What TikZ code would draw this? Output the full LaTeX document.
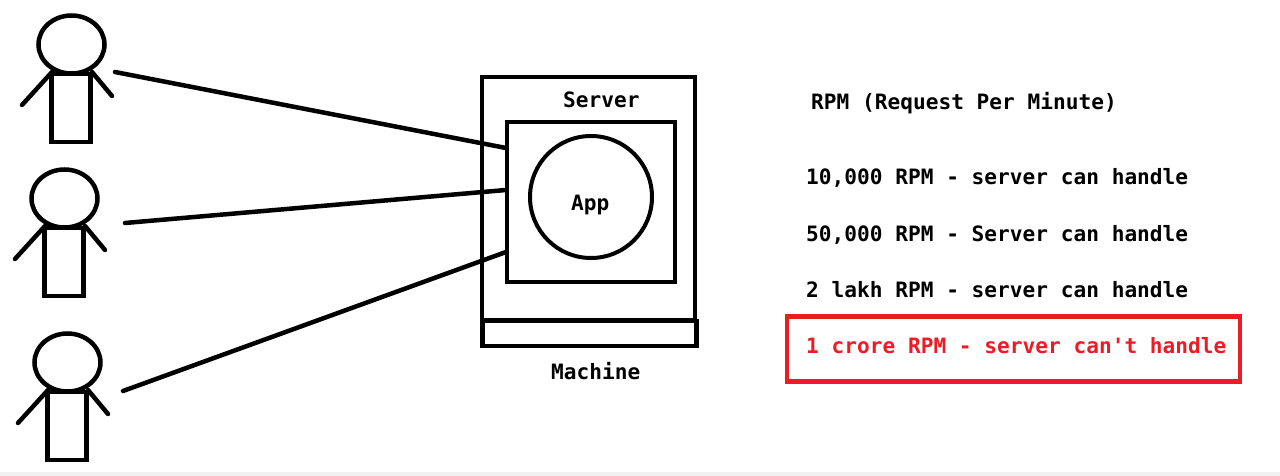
\documentclass[tikz,border=0pt]{standalone}
\usepackage{fontspec}
\setmonofont{DejaVu Sans Mono}[BoldFont={DejaVu Sans Mono Bold}]
\usetikzlibrary{shapes.geometric,calc}
\definecolor{alertred}{HTML}{ED1C24}
\definecolor{stripgray}{HTML}{F0F0F0}
\tikzset{
  x=1pt,y=-1pt,
  ink/.style={draw=black,line width=4.5pt},
  thinink/.style={draw=black,line width=4.5pt},
  boxshape/.style={ink,rectangle,inner sep=0pt,outer sep=0pt,anchor=center},
  head/.style={thinink,ellipse,inner sep=0pt,outer sep=0pt,minimum width=66pt,minimum height=58pt},
  torso/.style={thinink,rectangle,inner sep=0pt,outer sep=0pt,minimum width=39pt,minimum height=68pt},
  limb/.style={draw=black,line width=4.5pt,line cap=round},
  wire/.style={draw=black,line width=4.5pt,line cap=round},
  lbl/.style={font=\ttfamily\bfseries\fontsize{21.15pt}{25pt}\selectfont,text=black,inner sep=0pt,anchor=base west},
}
\newcommand{\stickfigure}[3]{%
  \node[head] (#1h) at (#2+0.5,#3-29.5) {};
  \node[torso] (#1b) at (#2,#3+34) {};
  \draw[limb] (#2-19,#3-2) -- (#2-49,#3+31);
  \draw[limb] (#2+21,#3-2) -- (#2+41,#3+22);
}
\begin{document}
\begin{tikzpicture}
\useasboundingbox (0,0) rectangle (1280,476);
\fill[white] (0,0) rectangle (1280,476);
\fill[stripgray] (0,472) rectangle (1280,476);

\stickfigure{a}{71}{74}
\stickfigure{b}{64}{228}
\stickfigure{c}{67}{392}

\node[boxshape,minimum width=213pt,minimum height=243pt] (server) at (588.5,198.5) {};
\node[boxshape,minimum width=214pt,minimum height=25pt] (machine) at (589.5,333.5) {};
\node[boxshape,minimum width=168pt,minimum height=160pt] (appbox) at (591,202) {};
\node[draw=black,line width=4pt,circle,minimum size=122pt,inner sep=0pt,outer sep=0pt] (app) at (591,197) {};

\coordinate (u1) at (115,72);
\coordinate (u2) at (125,223);
\coordinate (u3) at (123,391);
\coordinate (p1) at (506,148);
\coordinate (p2) at (506,190);
\coordinate (p3) at (506,252);
\draw[wire] (u1) -- (p1);
\draw[wire] (u2) -- (p2);
\draw[wire] (u3) -- (p3);

\node[lbl] (tserver) at (563,108) {Server};
\node[lbl] (tapp) at (571,211) {App};
\node[lbl] (tmachine) at (551,379) {Machine};
\node[lbl] (t0) at (811,110) {RPM (Request Per Minute)};
\node[lbl] (t1) at (806,185) {10,000 RPM - server can handle};
\node[lbl] (t2) at (806,241) {50,000 RPM - Server can handle};
\node[lbl] (t3) at (806,297) {2 lakh RPM - server can handle};
\node[draw=alertred,line width=4.5pt,rectangle,inner sep=0pt,minimum width=453pt,minimum height=65pt] (alert) at (1013.5,349) {};
\node[lbl,text=alertred] (t4) at (806,353) {1 crore RPM - server can't handle};
\end{tikzpicture}
\end{document}
